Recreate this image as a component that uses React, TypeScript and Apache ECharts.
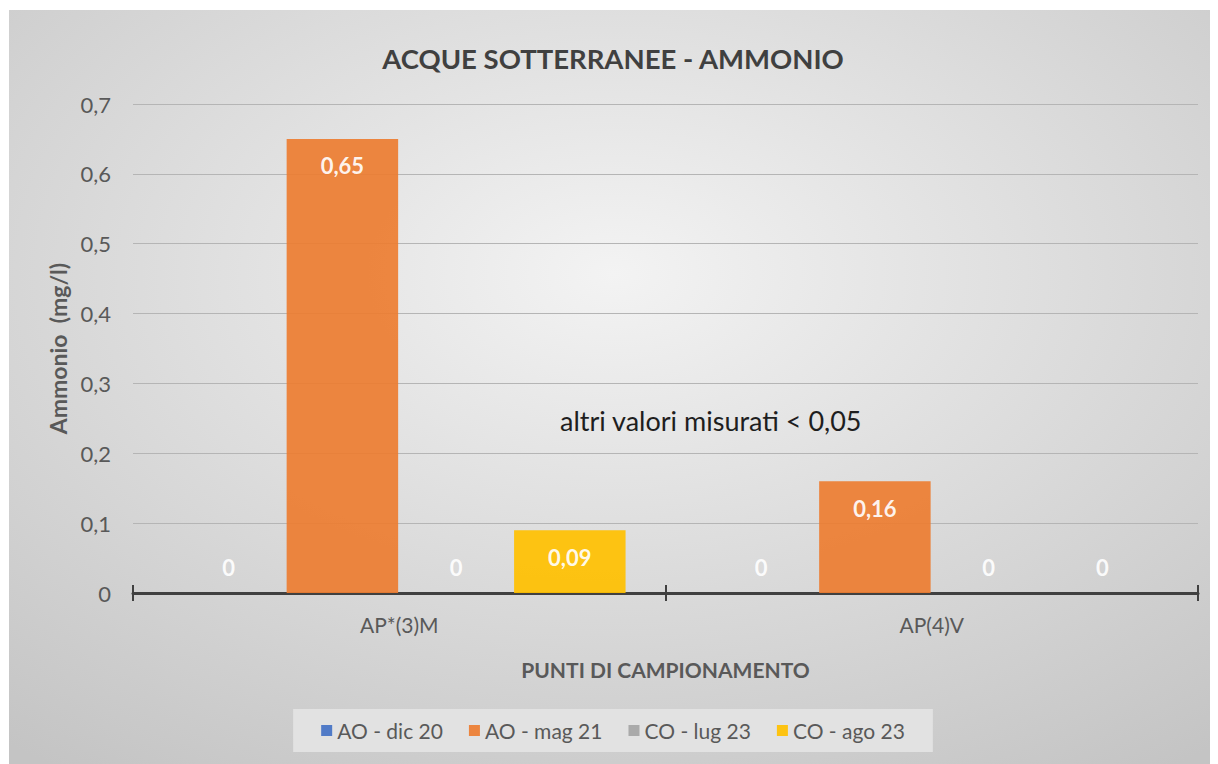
import React, { useEffect, useRef } from "react";
import * as echarts from "echarts";

const categories = ["AP*(3)M", "AP(4)V"];
const seriesNames = ["AO - dic 20", "AO - mag 21", "CO - lug 23", "CO - ago 23"];
const aoDic20 = [0, 0];
const aoMag21 = [0.65, 0.16];
const coLug23 = [0, 0];
const coAgo23 = [0.09, 0];
const seriesColors = ["#4472C4", "#ED7D31", "#A5A5A5", "#FFC000"];
const titleText = "ACQUE SOTTERRANEE - AMMONIO";
const yAxisTitle = "Ammonio  (mg/l)";
const xAxisTitle = "PUNTI DI CAMPIONAMENTO";
const noteText = "altri valori misurati < 0,05";

const FONT = "Lato, 'Open Sans', sans-serif";
const fmt = (v: number) => String(v).replace(".", ",");

export default function App() {
  const ref = useRef<HTMLDivElement>(null);
  useEffect(() => {
    if (!ref.current) return;
    const chart = echarts.init(ref.current, undefined, { renderer: "svg" });
    const allValues = [aoDic20, aoMag21, coLug23, coAgo23];
    const series = allValues.map((vals, i) => ({
      name: seriesNames[i],
      type: "bar",
      barGap: "2%",
      barCategoryGap: "15%",
      itemStyle: { color: seriesColors[i], opacity: 0.92, borderWidth: 0 },
      data: vals.map((v) => ({
        value: v,
        label: {
          show: true,
          position: v === 0 ? "top" : "insideTop",
          distance: v === 0 ? 15 : 16,
          color: "#ffffff",
          fontWeight: "bold",
          fontSize: 22,
          fontFamily: FONT,
          formatter: (p: any) => fmt(p.value),
        },
      })),
    }));
    chart.setOption({
      animation: false,
      textStyle: { fontFamily: FONT },
      graphic: [
        {
          type: "rect",
          z: -10,
          silent: true,
          shape: { x: 1, y: 2, width: 1209, height: 754 },
          style: {
            fill: {
              type: "radial",
              x: 0.5,
              y: 0.35,
              r: 0.8,
              colorStops: [
                { offset: 0, color: "#f3f3f3" },
                { offset: 1, color: "#c4c4c4" },
              ],
            },
          },
        },
        {
          type: "text",
          left: 552,
          top: 399,
          style: { text: noteText, fill: "#1e1e1e", fontSize: 27, fontFamily: FONT },
        },
      ],
      title: {
        text: titleText,
        left: "center",
        top: 31,
        textStyle: { fontSize: 27.5, fontWeight: "bold", color: "#404040", fontFamily: FONT },
      },
      legend: {
        bottom: 12,
        left: "center",
        data: seriesNames,
        icon: "rect",
        itemWidth: 11,
        itemHeight: 11,
        itemGap: 26,
        backgroundColor: "#e2e2e2",
        padding: [11, 28],
        textStyle: { fontSize: 21, color: "#595959", fontFamily: FONT },
      },
      grid: { left: 125, right: 20, top: 96, bottom: 171, containLabel: false },
      xAxis: [
        {
          type: "category",
          data: categories,
          name: xAxisTitle,
          nameLocation: "middle",
          nameGap: 66,
          nameTextStyle: { fontSize: 21, fontWeight: "bold", color: "#595959", fontFamily: FONT },
          axisLine: { lineStyle: { color: "#404040", width: 3 } },
          axisTick: { show: true, length: 8, lineStyle: { color: "#404040", width: 2 } },
          axisLabel: { fontSize: 21, color: "#595959", margin: 21, fontFamily: FONT },
        },
        {
          type: "category",
          data: categories,
          position: "bottom",
          axisLine: { show: false },
          axisTick: { show: true, inside: true, length: 8, lineStyle: { color: "#404040", width: 2 } },
          axisLabel: { show: false },
        },
      ],
      yAxis: {
        type: "value",
        min: 0,
        max: 0.7,
        interval: 0.1,
        name: yAxisTitle,
        nameLocation: "middle",
        nameGap: 60,
        nameTextStyle: { fontSize: 23, fontWeight: "bold", color: "#595959", fontFamily: FONT },
        axisLine: { show: false },
        axisTick: { show: false },
        axisLabel: { fontSize: 22, color: "#595959", margin: 22, formatter: (v: number) => fmt(Math.round(v * 10) / 10), fontFamily: FONT },
        splitLine: { lineStyle: { color: "#b5b5b5", width: 1 } },
      },
      series,
    });
    return () => chart.dispose();
  }, []);
  return <div ref={ref} style={{ width: 1210, height: 756 }} />;
}
